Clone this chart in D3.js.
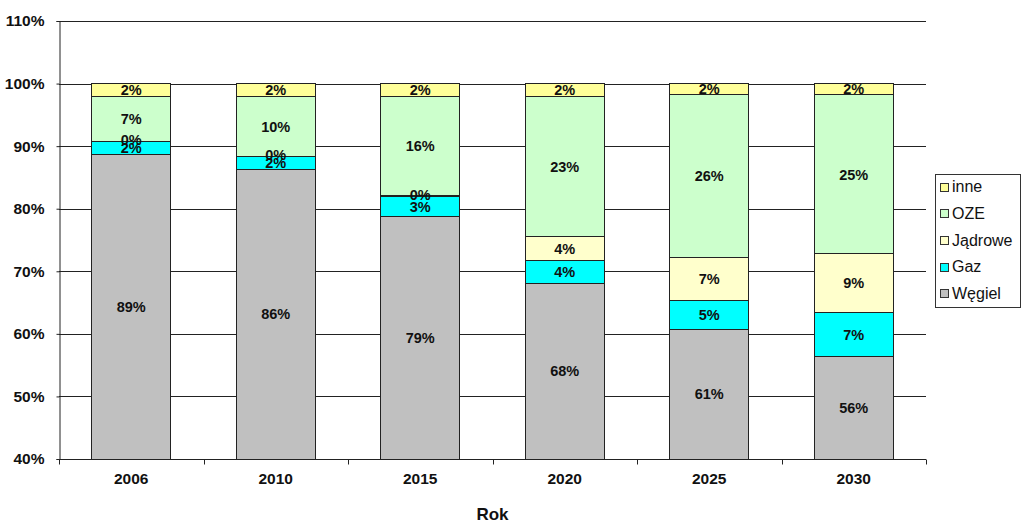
<!DOCTYPE html>
<html>
<head>
<meta charset="utf-8">
<script src="https://cdn.jsdelivr.net/npm/d3@7"></script>
<style>
  html, body { margin: 0; padding: 0; background: #fff; }
  text { font-family: "Liberation Sans", Arial, sans-serif; }
</style>
</head>
<body>
<svg id="chart" width="1024" height="527"></svg>
<script>
const years = ['2006', '2010', '2015', '2020', '2025', '2030'];
const wegiel  = [88.7, 86.3, 78.8, 68.1, 60.7, 56.35];
const gaz     = [2.1, 2.1, 3.1, 3.65, 4.7, 7.05];
const jadrowe = [0, 0, 0.2, 3.75, 6.8, 9.4];
const oze     = [7.1, 9.5, 15.9, 22.5, 26.0, 25.4];
const inne    = [2.1, 2.1, 2.0, 2.0, 1.8, 1.8];
const seriesNames = ['Węgiel', 'Gaz', 'Jądrowe', 'OZE', 'inne'];
const seriesKeys = ['wegiel', 'gaz', 'jadrowe', 'oze', 'inne'];
const yTicks = [40, 50, 60, 70, 80, 90, 100, 110];
const xTitle = 'Rok';

(function () {
const colors = { wegiel: '#C0C0C0', gaz: '#00FFFF', jadrowe: '#FFFFCC', oze: '#CCFFCC', inne: '#FFFF99' };
const seriesData = { wegiel, gaz, jadrowe, oze, inne };

const table = years.map((yr, i) => {
  const row = { year: yr };
  seriesKeys.forEach(k => row[k] = seriesData[k][i]);
  return row;
});

const svg = d3.select('#chart');
const pLeft = 59, pRight = 926, pTop = 21, pBottom = 459;

const x = d3.scaleBand().domain(years).range([pLeft, pRight]).paddingInner(0.45).paddingOuter(0.225);
const y = d3.scaleLinear().domain([40, 110]).range([pBottom, pTop]);
const yMin = y.domain()[0];
const lo = d => y(Math.max(d[0], yMin));

// gridlines
svg.append('g').selectAll('line').data(yTicks.slice(1)).join('line')
  .attr('x1', pLeft).attr('x2', pRight)
  .attr('y1', d => Math.round(y(d)) + 0.5).attr('y2', d => Math.round(y(d)) + 0.5)
  .attr('stroke', '#222').attr('stroke-width', 1);

const stacked = d3.stack().keys(seriesKeys)(table);

const barsG = svg.append('g');
stacked.forEach(layer => {
  barsG.append('g').selectAll('rect').data(layer).join('rect')
    .attr('x', d => x(d.data.year))
    .attr('width', x.bandwidth())
    .attr('y', d => y(d[1]))
    .attr('height', d => Math.max(0, lo(d) - y(d[1])))
    .attr('fill', colors[layer.key])
    .attr('stroke', '#222').attr('stroke-width', 1)
    .attr('shape-rendering', 'crispEdges');
});

// labels
stacked.forEach(layer => {
  svg.append('g').selectAll('text').data(layer).join('text')
    .attr('x', d => x(d.data.year) + x.bandwidth() / 2)
    .attr('y', d => (lo(d) + y(d[1])) / 2 - (d[1] - d[0] < 0.5 ? 1.5 : 0))
    .attr('dy', '0.36em')
    .attr('text-anchor', 'middle')
    .attr('font-size', 14.5).attr('font-weight', 'bold').attr('fill', '#111')
    .text(d => Math.round(d[1] - d[0]) + '%');
});

// y axis
const yAxis = d3.axisLeft(y).tickValues(yTicks).tickSize(3).tickFormat(d => d + '%');
const yg = svg.append('g').attr('transform', `translate(${pLeft + 0.5},0)`).call(yAxis);
yg.select('.domain').attr('stroke', '#222');
yg.selectAll('.tick line').attr('stroke', '#222');
yg.selectAll('.tick text').attr('font-size', 15.5).attr('font-weight', 'bold').attr('fill', '#111')
  .attr('font-family', '"Liberation Sans", Arial, sans-serif').attr('x', -15);

// x axis
const xg = svg.append('g').attr('transform', `translate(0,${pBottom + 0.5})`);
xg.append('line').attr('x1', pLeft).attr('x2', pRight).attr('y1', 0).attr('y2', 0)
  .attr('stroke', '#222');
const step = x.step();
const boundaries = d3.range(years.length + 1).map(i => Math.round(pLeft + i * step) + 0.5);
xg.selectAll('line.tk').data(boundaries).join('line').attr('class', 'tk')
  .attr('x1', d => d).attr('x2', d => d).attr('y1', 0).attr('y2', 5)
  .attr('stroke', '#222');
xg.selectAll('text').data(years).join('text')
  .attr('x', d => x(d) + x.bandwidth() / 2).attr('y', 24)
  .attr('text-anchor', 'middle').attr('font-size', 15.5).attr('font-weight', 'bold').attr('fill', '#111')
  .text(d => d);

svg.append('text').attr('x', (pLeft + pRight) / 2).attr('y', 520)
  .attr('text-anchor', 'middle').attr('font-size', 17).attr('font-weight', 'bold').attr('fill', '#111')
  .text(xTitle);

// legend
const lg = svg.append('g');
lg.append('rect').attr('x', 935.5).attr('y', 174.5).attr('width', 85).attr('height', 133)
  .attr('fill', '#fff').attr('stroke', '#333');
const legendOrder = seriesKeys.slice().reverse();
const legendNames = seriesNames.slice().reverse();
legendOrder.forEach((k, i) => {
  const cy = 186.5 + i * 26.7;
  lg.append('rect').attr('x', 940.5).attr('y', Math.round(cy - 4) + 0.5).attr('width', 8).attr('height', 8)
    .attr('fill', colors[k]).attr('stroke', '#333');
  lg.append('text').attr('x', 952).attr('y', cy).attr('dy', '0.36em')
    .attr('font-size', 16).attr('fill', '#111').text(legendNames[i]);
});
})();
</script>
</body>
</html>
